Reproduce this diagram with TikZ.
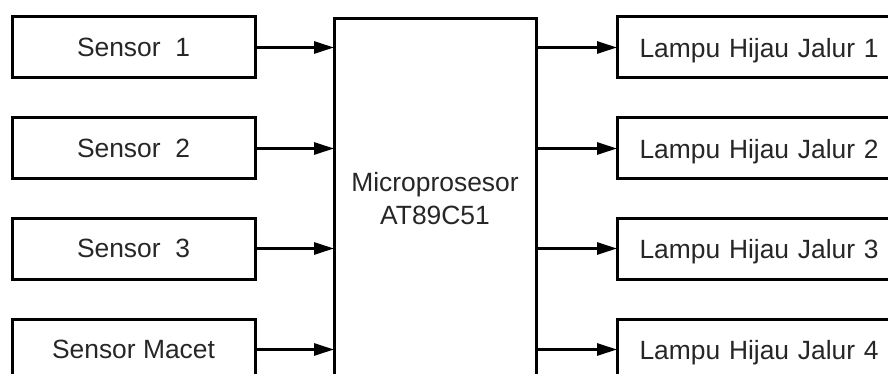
\documentclass[tikz,border=0pt]{standalone}
\usepackage{fontspec}
\setmainfont{Liberation Sans}
\usetikzlibrary{arrows.meta}
\begin{document}
\begin{tikzpicture}[x=1pt,y=-1pt,
  blk/.style={draw=black, line width=3pt, minimum height=61pt, inner sep=0pt,
    font=\fontsize{26.4}{30}\selectfont, text=black!85},
  inbox/.style={blk, minimum width=243pt},
  outbox/.style={blk, minimum width=320pt, anchor=west, text width=300pt, align=left, text depth=0pt},
  conn/.style={line width=3pt, -{Triangle[length=20pt,width=12pt]}, shorten >=-1pt}]
\useasboundingbox (0,0) rectangle (888,374);
\clip (0,0) rectangle (888,374);
\node[blk, minimum width=202pt, minimum height=364pt, anchor=north west] (mp) at (333,17) {};
\node[font=\fontsize{26.4}{33}\selectfont, text=black!85, align=center] (mpt) at (435,199) {Microprosesor\\AT89C51};
\node[inbox] (s1) at (133.5,47.5) {Sensor\ \ 1};
\node[inbox] (s2) at (133.5,148.5) {Sensor\ \ 2};
\node[inbox] (s3) at (133.5,248.5) {Sensor\ \ 3};
\node[inbox] (s4) at (133.5,349.5) {Sensor Macet};
\node[outbox] (l1) at (616,47.5) {\hspace{12pt}Lampu Hijau Jalur 1};
\node[outbox] (l2) at (616,148.5) {\hspace{12pt}Lampu Hijau Jalur 2};
\node[outbox] (l3) at (616,248.5) {\hspace{12pt}Lampu Hijau Jalur 3};
\node[outbox] (l4) at (616,349.5) {\hspace{12pt}Lampu Hijau Jalur 4};
\foreach \i in {1,2,3,4}{
  \draw[conn] (s\i.east) -- (s\i.east -| mp.west);
  \draw[conn] (l\i.west -| mp.east) -- (l\i.west);
}
\end{tikzpicture}
\end{document}
